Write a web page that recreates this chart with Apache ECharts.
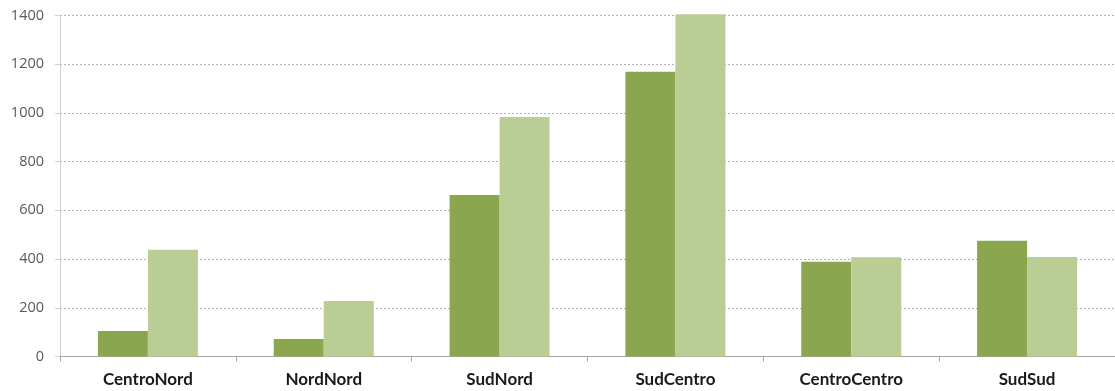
<!DOCTYPE html>
<html>
<head>
<meta charset="utf-8">
<script src="https://cdn.jsdelivr.net/npm/echarts@6/dist/echarts.min.js"></script>
<style>
  html, body { margin: 0; padding: 0; background: #fff; }
  #chart { width: 1115px; height: 391px; }
</style>
</head>
<body>
<div id="chart"></div>
<script>
// Regional pairs and their two measured values
const categories = ['CentroNord', 'NordNord', 'SudNord', 'SudCentro', 'CentroCentro', 'SudSud'];
const seriesA = [105, 72, 663, 1169, 389, 475];
const seriesB = [438, 228, 983, 1405, 407, 408];
const yTicks = { min: 0, max: 1400, interval: 200 };

const chart = echarts.init(document.getElementById('chart'), null, { renderer: 'canvas' });
chart.setOption({
  animation: false,
  grid: { left: 60, right: 0, top: 15.5, bottom: 34.5, containLabel: false },
  xAxis: {
    type: 'category',
    data: categories,
    axisLine: { lineStyle: { color: '#a6a6a6', width: 1 } },
    axisTick: { show: true, length: 5, lineStyle: { color: '#a6a6a6' } },
    axisLabel: {
      color: '#1a1a1a', fontSize: 17, fontWeight: 'bold',
      fontFamily: 'Lato', margin: 15
    }
  },
  yAxis: {
    type: 'value',
    min: yTicks.min, max: yTicks.max, interval: yTicks.interval,
    axisLine: { show: true, lineStyle: { color: '#d0d0d0' } },
    axisTick: { show: true, length: 5, lineStyle: { color: '#d0d0d0' } },
    axisLabel: {
      color: '#595959', fontSize: 14.5, fontFamily: 'Open Sans', margin: 16,
      formatter: (v) => String(v)
    },
    splitLine: { show: true, lineStyle: { color: '#b0b0b0', type: [2, 2], width: 1 } }
  },
  series: [
    {
      type: 'bar', data: seriesA, barWidth: 50, barGap: '0%', clip: false,
      itemStyle: { color: '#8aa64f' }
    },
    {
      type: 'bar', data: seriesB, barWidth: 50, barGap: '0%', clip: false,
      itemStyle: { color: '#b9cd94' }
    }
  ]
});
</script>
</body>
</html>
